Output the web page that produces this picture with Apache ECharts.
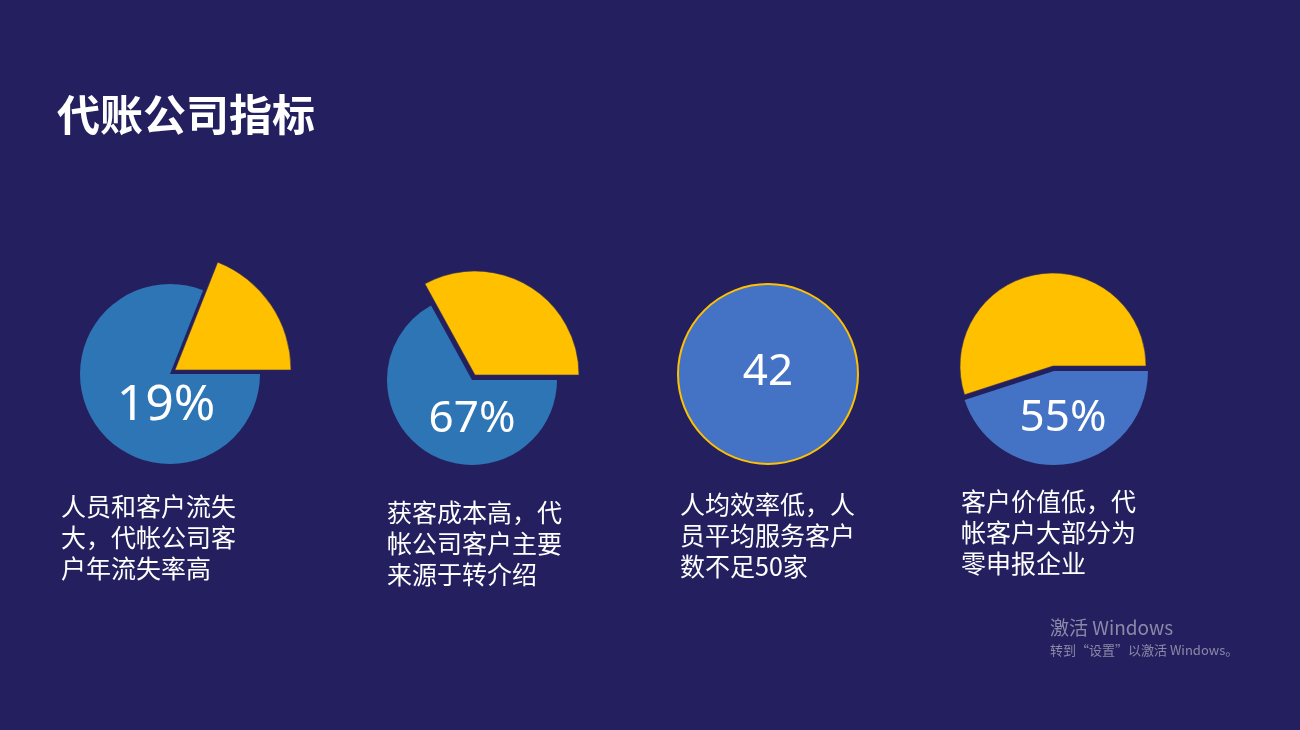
<!DOCTYPE html>
<html>
<head>
<meta charset="utf-8">
<script src="https://cdn.jsdelivr.net/npm/echarts@6/dist/echarts.min.js"></script>
<style>
html,body{margin:0;padding:0;background:#24205F;}
#chart{width:1300px;height:730px;}
</style>
</head>
<body>
<div id="chart"></div>
<script>
// ---- data ----
const title = '代账公司指标';
const blueValues = [81, 67, 45];      // pies 1, 2, 4 (blue part)
const yellowValues = [19, 33, 55];    // pies 1, 2, 4 (yellow part)
const perCapitaClients = 42;          // pie 3 (single full circle)
const valueLabels = ['19%', '67%', '42', '55%'];
const captions = [
  ['人员和客户流失', '大，代帐公司客', '户年流失率高'],
  ['获客成本高，代', '帐公司客户主要', '来源于转介绍'],
  ['人均效率低，人', '员平均服务客户', '数不足50家'],
  ['客户价值低，代', '帐客户大部分为', '零申报企业']
];
const watermark = ['激活 Windows', '转到“设置”以激活 Windows。'];

// ---- styles / layout ----
const BG = '#24205F';
const BLUE1 = '#2E75B6';
const BLUE2 = '#4472C4';
const YELLOW = '#FFC000';
const FONT = '"Noto Sans CJK SC","Noto Sans",sans-serif';

const pieLayout = [
  {c: [170, 374], rBlue: 90, rYellow: 116, off: [5, -4], blue: BLUE1},
  {c: [472, 380], rBlue: 85, rYellow: 104, off: [3, -5], blue: BLUE1},
  {c: [1054, 371], rBlue: 94, rYellow: 93, off: [-1, -5], blue: BLUE2}
];
const labelPos = [[166, 406, 50], [472, 419, 44], [768, 372, 44], [1063, 418, 44]];
const captionPos = [[61, 491], [387, 497], [680, 489], [961, 486]];

const base = {
  type: 'pie', startAngle: 0, clockwise: true, silent: true,
  label: {show: false}, labelLine: {show: false},
  emphasis: {disabled: true}, animation: false
};

const series = [];
pieLayout.forEach((p, i) => {
  series.push(Object.assign({}, base, {
    center: p.c, radius: [0, p.rBlue],
    data: [
      {value: blueValues[i], itemStyle: {color: p.blue}},
      {value: yellowValues[i], itemStyle: {color: 'transparent'}}
    ]
  }));
  series.push(Object.assign({}, base, {
    center: [p.c[0] + p.off[0], p.c[1] + p.off[1]], radius: [0, p.rYellow],
    data: [
      {value: blueValues[i], itemStyle: {color: 'transparent'}},
      {value: yellowValues[i], itemStyle: {color: YELLOW, borderColor: '#3a3050', borderWidth: 0.6}}
    ]
  }));
});
// pie 3: full circle
series.push(Object.assign({}, base, {
  center: [768, 374], radius: [0, 90],
  data: [{value: perCapitaClients, itemStyle: {color: BLUE2, borderColor: YELLOW, borderWidth: 2}}]
}));

const graphic = [];
graphic.push({
  type: 'text', x: 57, y: 115,
  style: {text: title, fill: '#fff', font: 'bold 43px ' + FONT, textAlign: 'left', textVerticalAlign: 'middle'}
});
valueLabels.forEach((t, i) => {
  const [x, y, s] = labelPos[i];
  graphic.push({
    type: 'text', x: x, y: y, z: 10,
    style: {text: t, fill: '#fff', font: s + 'px "Noto Sans",' + FONT, textAlign: 'center', textVerticalAlign: 'middle'}
  });
});
captions.forEach((lines, i) => {
  const [x, y] = captionPos[i];
  graphic.push({
    type: 'text', x: x, y: y,
    style: {text: lines.join('\n'), fill: '#fff', font: '25px ' + FONT, lineHeight: 31, textAlign: 'left', textVerticalAlign: 'top'}
  });
});
graphic.push({
  type: 'text', x: 1050, y: 628,
  style: {text: watermark[0], fill: '#8c8aa8', font: '19px ' + FONT, textAlign: 'left', textVerticalAlign: 'middle'}
});
graphic.push({
  type: 'text', x: 1050, y: 650,
  style: {text: watermark[1], fill: '#8c8aa8', font: '13px ' + FONT, textAlign: 'left', textVerticalAlign: 'middle'}
});

const chart = echarts.init(document.getElementById('chart'));
chart.setOption({
  backgroundColor: BG,
  animation: false,
  series: series,
  graphic: graphic
});
</script>
</body>
</html>
